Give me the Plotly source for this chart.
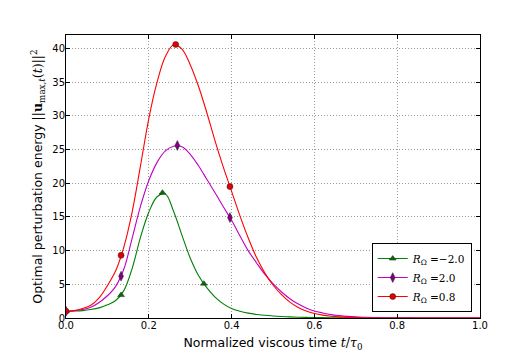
import plotly.graph_objects as go

# normalized viscous time samples
t = [0.00, 0.02, 0.04, 0.06, 0.08, 0.10, 0.12, 0.14, 0.16, 0.18,
     0.20, 0.22, 0.24, 0.26, 0.28, 0.30, 0.32, 0.34, 0.36, 0.38,
     0.40, 0.42, 0.44, 0.46, 0.48, 0.50, 0.52, 0.54, 0.56, 0.58,
     0.60, 0.62, 0.64, 0.66, 0.68, 0.70, 0.72, 0.74, 0.76, 0.78,
     0.80, 0.85, 0.90, 0.95, 1.00]

# optimal perturbation energy
e_neg = [1.0, 1.04, 1.1, 1.25, 1.5, 1.95, 2.6, 4.1, 7.4, 12.0,
         15.7, 18.0, 18.4, 15.8, 12.3, 8.9, 6.3, 4.5, 3.1, 2.1,
         1.4, 1.0, 0.72, 0.53, 0.4, 0.3, 0.22, 0.16, 0.12, 0.09,
         0.07, 0.05, 0.04, 0.03, 0.02, 0.02, 0.01, 0.01, 0.01, 0.0,
         0.0, 0.0, 0.0, 0.0, 0.0]
e_pos = [1.0, 1.08, 1.25, 1.6, 2.3, 3.3, 4.7, 7.3, 11.9, 16.6,
         20.4, 23.1, 24.8, 25.5, 25.4, 24.3, 22.6, 20.6, 18.6, 16.5,
         14.5, 12.2, 10.0, 8.2, 6.5, 5.1, 3.9, 2.9, 2.1, 1.5,
         1.05, 0.75, 0.5, 0.35, 0.24, 0.16, 0.11, 0.07, 0.05, 0.03,
         0.02, 0.01, 0.0, 0.0, 0.0]
e_mid = [1.0, 1.1, 1.4, 1.9, 3.0, 4.8, 7.0, 10.6, 15.8, 22.6,
         29.6, 35.0, 38.8, 40.55, 39.9, 37.6, 34.4, 30.5, 26.3, 22.4,
         18.8, 15.2, 11.9, 9.0, 6.7, 4.9, 3.5, 2.4, 1.6, 1.05,
         0.68, 0.43, 0.27, 0.17, 0.1, 0.06, 0.04, 0.02, 0.01, 0.01,
         0.0, 0.0, 0.0, 0.0, 0.0]

# marked points
tm_neg = [0, 0.133, 0.233, 0.333]
em_neg = [1.0, 3.4, 18.6, 5.1]
tm_pos = [0, 0.133, 0.269, 0.396]
em_pos = [1.0, 6.2, 25.6, 14.9]
tm_mid = [0, 0.133, 0.265, 0.396]
em_mid = [1.0, 9.3, 40.6, 19.5]

r_values = ['−2.0', '2.0', '0.8']

series = [
    (e_neg, tm_neg, em_neg, '#008000', '#007000', 'triangle-up', 6),
    (e_pos, tm_pos, em_pos, '#c000c0', '#800080', 'diamond-tall', 7),
    (e_mid, tm_mid, em_mid, '#ff0000', '#e00000', 'circle', 6),
]

fig = go.Figure()

for (e, tm, em, col, mcol, sym, ms), rv in zip(series, r_values):
    marker = dict(symbol=sym, size=ms, color=mcol, line=dict(color='#222', width=0.5))
    fig.add_trace(go.Scatter(
        x=t, y=e, mode='lines',
        line=dict(color=col, width=1.1, shape='spline', smoothing=1.0),
        showlegend=False, hoverinfo='skip'
    ))
    fig.add_trace(go.Scatter(
        x=tm, y=em, mode='markers', marker=marker, showlegend=False
    ))
    # legend entry only
    fig.add_trace(go.Scatter(
        x=[None], y=[None], mode='lines+markers',
        name='<i>R</i><sub>Ω</sub> =' + rv,
        line=dict(color=col, width=1.1), marker=marker
    ))

axis_common = dict(
    showline=True, linecolor='black', linewidth=1, mirror='ticks',
    ticks='inside', ticklen=4, tickcolor='black', ticklabelstandoff=-2,
    showgrid=True, gridcolor='#999', griddash='1px,2px', gridwidth=0.8,
    zeroline=False, automargin=False,
    tickfont=dict(family='DejaVu Sans', size=10, color='black'),
)

# the page body has an 8px margin, so the figure is a bit smaller than the window
fig.update_layout(
    width=524, height=346,
    margin=dict(l=58, r=52, t=27, b=36),
    plot_bgcolor='white', paper_bgcolor='white',
    xaxis=dict(range=[0, 1], dtick=0.2, tickformat='.1f',
               title=dict(text='Normalized viscous time <span style="font-family:DejaVu Serif"><i>t</i>/<i>τ</i><sub>0</sub></span>',
                          font=dict(family='DejaVu Sans', size=12.5, color='black'), standoff=8),
               **axis_common),
    yaxis=dict(range=[0, 42], dtick=5,
               title=dict(text='Optimal perturbation energy <span style="font-family:DejaVu Serif">||<b>u</b><sub>max,<i>t</i></sub>(<i>t</i>)||<sup>2</sup></span>',
                          font=dict(family='DejaVu Sans', size=12.5, color='black'), standoff=6),
               **axis_common),
    legend=dict(x=0.98, y=0.021, xanchor='right', yanchor='bottom',
                bgcolor='white', bordercolor='black', borderwidth=1,
                font=dict(family='DejaVu Serif', size=10.5, color='black'),
                tracegroupgap=0, itemwidth=30),
)

fig.write_html("out.html")
